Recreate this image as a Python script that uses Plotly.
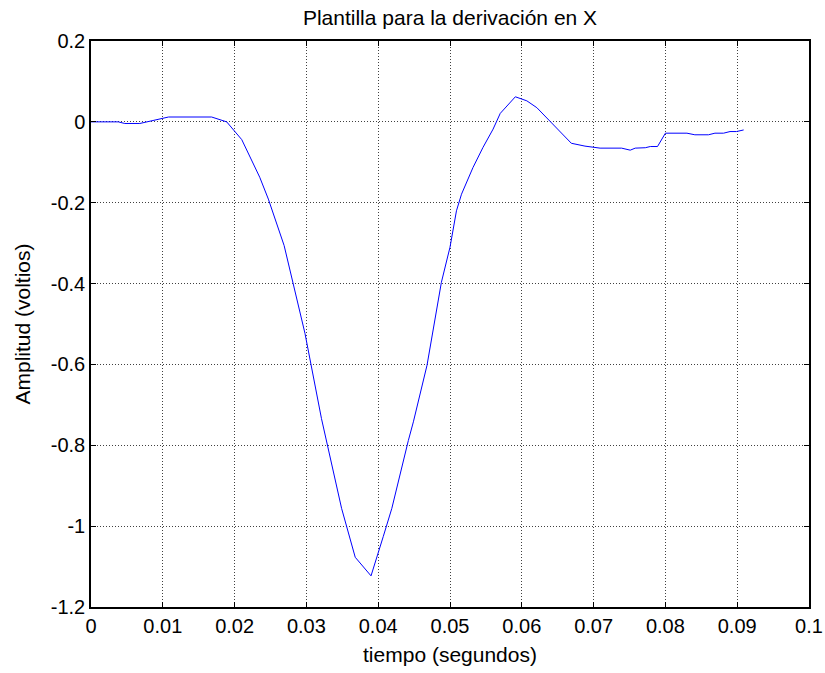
import plotly.graph_objects as go

# Template waveform for the X lead (time in seconds, amplitude in volts)
tiempo = [0.0, 0.0038, 0.0047, 0.0068, 0.0108, 0.0168, 0.0189, 0.0210, 0.0235,
          0.0247, 0.0269, 0.0298, 0.0321, 0.0349, 0.0368, 0.0390, 0.0407, 0.0419,
          0.0442, 0.0449, 0.0468, 0.0488, 0.0500, 0.0509, 0.0516, 0.0532, 0.0546,
          0.0560, 0.0570, 0.0591, 0.0607, 0.0621, 0.0669, 0.0688, 0.0709, 0.0739,
          0.0751, 0.0758, 0.0772, 0.0779, 0.0789, 0.0800, 0.0830, 0.0841, 0.0860,
          0.0869, 0.0881, 0.0890, 0.0899, 0.0909]
amplitud = [0.0, 0.0, -0.004, -0.004, 0.012, 0.012, 0.0, -0.044, -0.137,
            -0.191, -0.306, -0.523, -0.734, -0.956, -1.077, -1.123, -1.026, -0.956,
            -0.788, -0.742, -0.602, -0.397, -0.310, -0.220, -0.179, -0.113, -0.063,
            -0.018, 0.021, 0.062, 0.052, 0.035, -0.053, -0.060, -0.065, -0.065,
            -0.070, -0.065, -0.064, -0.061, -0.061, -0.028, -0.028, -0.032, -0.032,
            -0.028, -0.028, -0.024, -0.024, -0.020]

x_ticks = [0, 0.01, 0.02, 0.03, 0.04, 0.05, 0.06, 0.07, 0.08, 0.09, 0.1]
x_labels = ["0", "0.01", "0.02", "0.03", "0.04", "0.05", "0.06", "0.07", "0.08", "0.09", "0.1"]
y_ticks = [0.2, 0, -0.2, -0.4, -0.6, -0.8, -1, -1.2]
y_labels = ["0.2", "0", "-0.2", "-0.4", "-0.6", "-0.8", "-1", "-1.2"]

FONT = "Liberation Sans, Arial, Helvetica, sans-serif"

fig = go.Figure()
fig.add_trace(go.Scatter(
    x=tiempo, y=amplitud, mode="lines",
    line=dict(color="#0000ff", width=1),
    hoverinfo="skip", showlegend=False,
))

axis_common = dict(
    showline=True, linecolor="black", linewidth=1.5, mirror="allticks",
    ticks="inside", ticklen=5, tickcolor="black", tickwidth=1,
    showgrid=True, gridcolor="#404040", gridwidth=1, griddash="1px,2px",
    zeroline=False, automargin=False,
    tickfont=dict(family=FONT, size=20, color="black"),
)

fig.update_xaxes(
    range=[0, 0.1], tickvals=x_ticks, ticktext=x_labels,
    title=dict(text="tiempo (segundos)", font=dict(family=FONT, size=21, color="black"), standoff=12),
    **axis_common,
)
fig.update_yaxes(
    range=[-1.2, 0.2], tickvals=y_ticks, ticktext=y_labels,
    title=dict(text="Amplitud (voltios)", font=dict(family=FONT, size=21, color="black"), standoff=14),
    **axis_common,
)

fig.update_layout(
    width=825, height=673,
    margin=dict(l=91, r=16, t=41, b=66),
    paper_bgcolor="white", plot_bgcolor="white",
    title=dict(
        text="Plantilla para la derivación en X",
        font=dict(family=FONT, size=21, color="black"),
        x=0.5, xanchor="center", xref="paper",
        y=1 - 18 / 673, yanchor="middle", yref="container",
    ),
)

fig.write_html("out.html")
